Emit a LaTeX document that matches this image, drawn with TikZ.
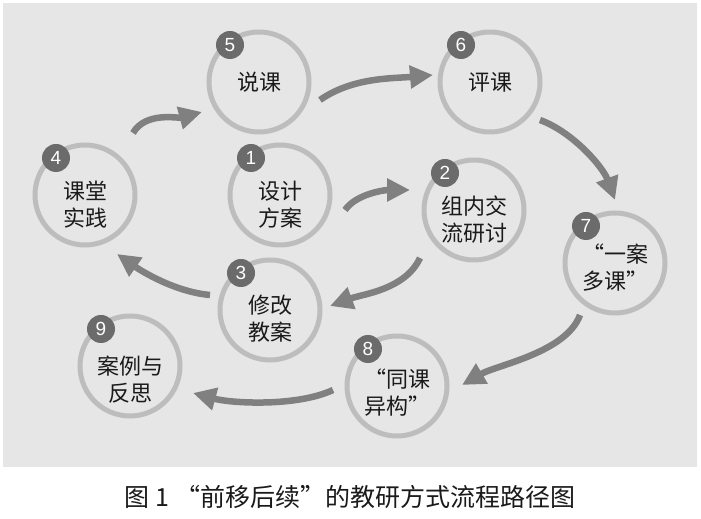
\documentclass[tikz,border=0pt]{standalone}
\usepackage{fontspec}
\newfontfamily\cjk{Noto Sans CJK SC}
\newfontfamily\numfont{Liberation Sans}
\usetikzlibrary{arrows.meta,calc}
\definecolor{bgc}{HTML}{E6E6E6}
\definecolor{ringc}{HTML}{BDBDBD}
\definecolor{badgec}{HTML}{6B6B6B}
\definecolor{arrc}{HTML}{808080}
\definecolor{txtc}{HTML}{1A1A1A}
\begin{document}
\begin{tikzpicture}[x=1pt,y=1pt,
  circ/.style={circle,draw=ringc,line width=5pt,minimum size=100pt,inner sep=0pt},
  badge/.style={circle,fill=badgec,minimum size=28pt,inner sep=0pt,text=white,font=\numfont\fontsize{19}{19}\selectfont},
  lbl/.style={align=center,text=txtc,font=\cjk\fontsize{22}{27}\selectfont,inner sep=0pt},
  arr/.style={draw=arrc,line width=6.5pt,-{Triangle[length=23pt,width=22pt]}},
  captxt/.style={text=txtc,font=\cjk\fontsize{25}{28}\selectfont,inner sep=0pt}]
\useasboundingbox (0,0) rectangle (701,519);
\fill[bgc] (3,52) rectangle (697,516);
% circles
\node[circ] (n5) at (259,437) {};
\node[circ] (n6) at (490,437) {};
\node[circ] (n4) at (85,324) {};
\node[circ] (n1) at (280,324) {};
\node[circ] (n2) at (474,309) {};
\node[circ] (n3) at (270,209) {};
\node[circ] (n7) at (615,256) {};
\node[circ] (n8) at (397,133) {};
\node[circ] (n9) at (130,153) {};
% labels
\node[lbl] (t5) at (n5) {说课};
\node[lbl] (t6) at (n6) {评课};
\node[lbl] (t4) at ($(n4)+(0,-10)$) {课堂\\实践};
\node[lbl] (t1) at ($(n1)+(0,-10)$) {设计\\方案};
\node[lbl] (t2) at ($(n2)+(0,-10)$) {组内交\\流研讨};
\node[lbl] (t3) at ($(n3)+(0,-9)$) {修改\\教案};
\node[lbl] (t7) at ($(n7)+(0,-5)$) {“一案\\多课”};
\node[lbl] (t8) at ($(n8)+(0,-7)$) {“同课\\异构”};
\node[lbl] (t9) at ($(n9)+(0,-14)$) {案例与\\反思};
% badges
\foreach \n in {1,...,9}{
  \node[badge] (b\n) at ($(n\n)+(-29,37)$) {\n};
}
% arrows
\draw[arr] ($(n4)+(48,62)$) .. controls +(12.5,21.7) and +(-24.1,-6.5) .. ($(n5)+(-57,-30)$);
\draw[arr] ($(n5)+(61,-18)$) .. controls +(32.8,22.9) and +(-39.8,-3.5) .. ($(n6)+(-57,7)$);
\draw[arr] ($(n6)+(50,-38)$) .. controls +(32.9,-12) and +(-12,32.9) .. ($(n7)+(0,63)$);
\draw[arr] ($(n7)+(-35,-52)$) .. controls +(-13.7,-37.6) and +(34.6,20) .. ($(n8)+(65,1)$);
\draw[arr] ($(n8)+(-64,-4)$) .. controls +(-36.3,-16.9) and +(38.6,-10.4) .. ($(n9)+(63,-27)$);
\draw[arr] ($(n1)+(65,-15)$) .. controls +(11.5,16.4) and +(-25,0) .. ($(n2)+(-64,20)$);
\draw[arr] ($(n2)+(-54,-48)$) .. controls +(-14.8,-31.7) and +(32.9,12) .. ($(n3)+(60,4)$);
\draw[arr] ($(n3)+(-60,15)$) .. controls +(-34.9,3.1) and +(24.6,-17.2) .. ($(n4)+(32,-59)$);
% caption
\node[captxt] (caption) at (350,22) {图 1 “前移后续”的教研方式流程路径图};
\end{tikzpicture}
\end{document}
